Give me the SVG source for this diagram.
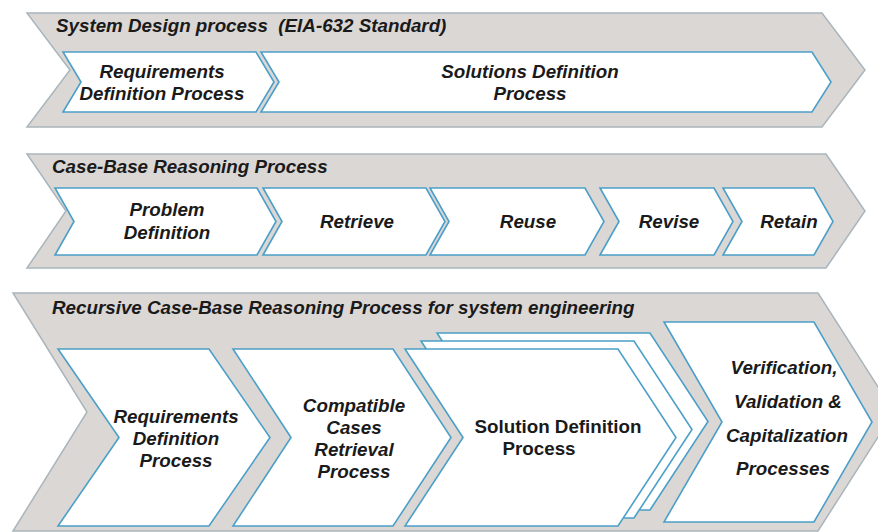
<svg xmlns="http://www.w3.org/2000/svg" width="878" height="532" viewBox="0 0 878 532">
<style>
.band{fill:#dbd7d5;stroke:#a9b5bc;stroke-width:1.5;stroke-linejoin:miter}
.box{fill:#ffffff;stroke:#4b9fc8;stroke-width:1.6;stroke-linejoin:miter}
.t{font-family:"Liberation Sans",Arial,sans-serif;font-size:18.8px;font-weight:bold;font-style:italic;fill:#1a1a1a}
.c{text-anchor:middle}
.u{font-style:normal}
</style>
<rect width="878" height="532" fill="#ffffff"/>
<g id="band1">
<polygon class="band" points="27,13 822,13 865,70 822,127 27,127 70,70"/>
<text class="t" x="56" y="32">System Design process &#160;(EIA-632 Standard)</text>
</g>
<g id="b1-requirements">
<polygon class="box" points="63,52 256,52 274,82 256,112 63,112 81,82"/>
<text class="t c" x="162" y="78">Requirements</text>
<text class="t c" x="162" y="100">Definition Process</text>
</g>
<g id="b1-solutions">
<polygon class="box" points="261,52 812,52 831,82 812,112 261,112 279,82"/>
<text class="t c" x="530" y="78">Solutions Definition</text>
<text class="t c" x="530" y="100">Process</text>
</g>
<g id="band2">
<polygon class="band" points="27,154 826,154 865,211 826,268 27,268 66,211"/>
<text class="t" x="52" y="173">Case-Base Reasoning Process</text>
</g>
<g id="b2-problem">
<polygon class="box" points="55,188 257,188 276,221.5 257,255 55,255 74,221.5"/>
<text class="t c" x="167" y="216">Problem</text>
<text class="t c" x="167" y="239">Definition</text>
</g>
<g id="b2-retrieve">
<polygon class="box" points="263,188 426,188 445,221.5 426,255 263,255 282,221.5"/>
<text class="t c" x="357" y="228">Retrieve</text>
</g>
<g id="b2-reuse">
<polygon class="box" points="430,188 585,188 604,221.5 585,255 430,255 449,221.5"/>
<text class="t c" x="528" y="228">Reuse</text>
</g>
<g id="b2-revise">
<polygon class="box" points="600,188 714,188 733,221.5 714,255 600,255 619,221.5"/>
<text class="t c" x="669" y="228">Revise</text>
</g>
<g id="b2-retain">
<polygon class="box" points="723,188 814,188 833,221.5 814,255 723,255 742,221.5"/>
<text class="t c" x="789" y="228">Retain</text>
</g>
<g id="band3">
<polygon class="band" points="13,293 818,293 894,412 818,531 13,531 87,412"/>
<text class="t" x="52" y="314">Recursive Case-Base Reasoning Process for system engineering</text>
</g>
<g id="b3-requirements">
<polygon class="box" points="58,349 209,349 270,437.5 209,526 58,526 119,437.5"/>
<text class="t c" x="176" y="423">Requirements</text>
<text class="t c" x="176" y="445">Definition</text>
<text class="t c" x="176" y="467">Process</text>
</g>
<g id="b3-compatible">
<polygon class="box" points="233,349 393,349 451,437.5 393,526 233,526 291,437.5"/>
<text class="t c" x="354" y="412">Compatible</text>
<text class="t c" x="354" y="434">Cases</text>
<text class="t c" x="354" y="456">Retrieval</text>
<text class="t c" x="354" y="478">Process</text>
</g>
<g id="b3-solution">
<polygon class="box" points="437,333 650,333 708,421.5 650,510 437,510 495,421.5"/>
<polygon class="box" points="421,341 634,341 692,429.5 634,518 421,518 479,429.5"/>
<polygon class="box" points="405,349 618,349 676,437.5 618,526 405,526 463,437.5"/>
<text class="t c u" x="558" y="433">Solution Definition</text>
<text class="t c u" x="539" y="455">Process</text>
</g>
<g id="b3-verification">
<polygon class="box" points="664,322 814,322 872,422 814,522 664,522 722,422"/>
<text class="t c" x="784" y="374">Verification,</text>
<text class="t c" x="788" y="408">Validation &amp;</text>
<text class="t c" x="787" y="442">Capitalization</text>
<text class="t c" x="783" y="475">Processes</text>
</g>
<g id="connectors"></g>
</svg>
